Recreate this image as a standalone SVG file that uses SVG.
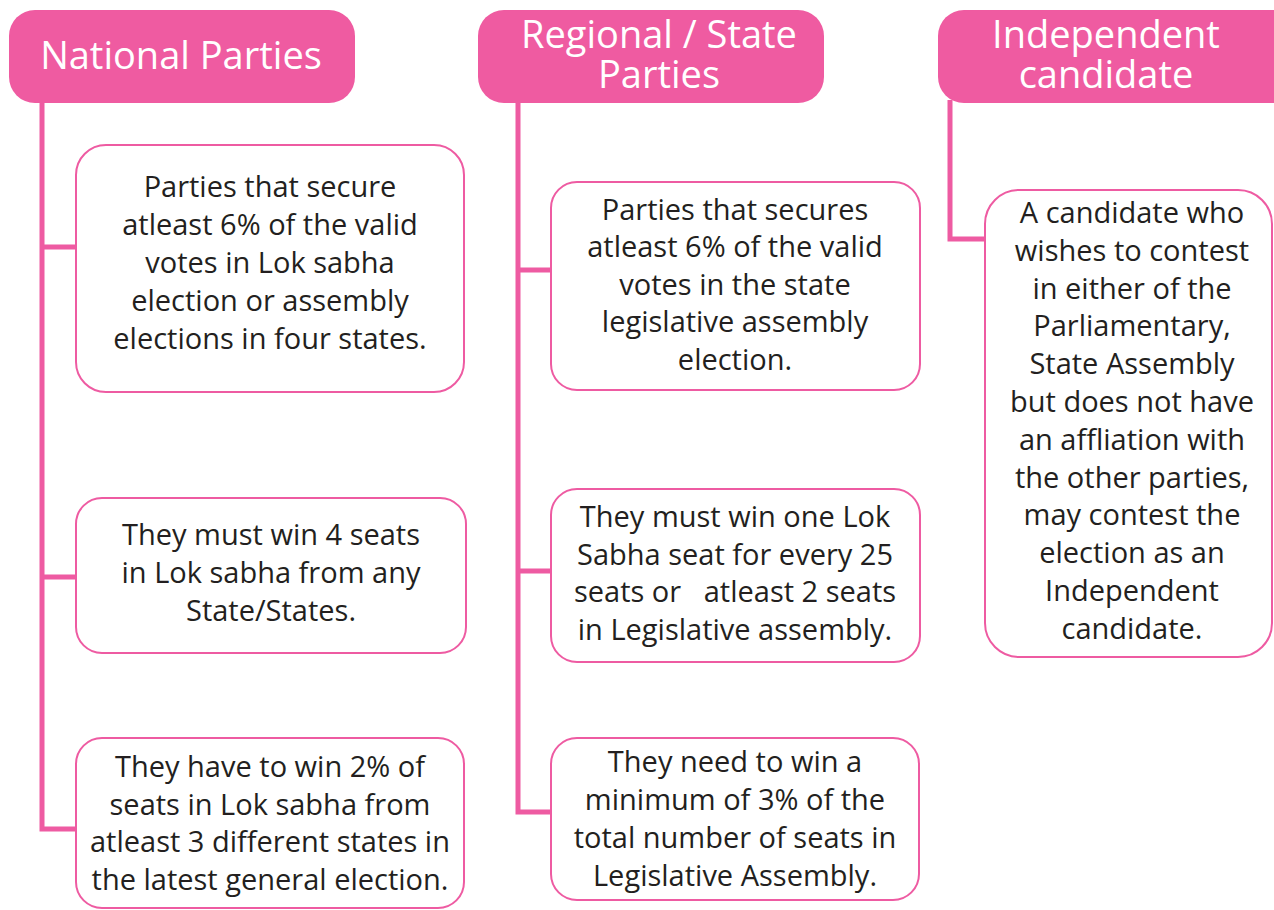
<svg xmlns="http://www.w3.org/2000/svg" width="1274" height="910" viewBox="0 0 1274 910">
<style>
.hdr{fill:#ef5ba1}
.hdrtxt{font-family:"Open Sans","Noto Sans",sans-serif;font-size:38px;fill:#ffffff;text-anchor:middle}
.box{fill:#ffffff;stroke:#ee5ba2;stroke-width:2}
.txt{font-family:"Open Sans","Noto Sans",sans-serif;font-size:29px;fill:#231f20;text-anchor:middle}
.conn{fill:none;stroke:#ee5ba2;stroke-width:5;stroke-linejoin:miter}
</style>
<rect width="1274" height="910" fill="#ffffff"/>
<g id="connectors">
<path class="conn" d="M42,100 V829 H77 M42,247 H77 M42,577 H77"/>
<path class="conn" d="M518,100 V812 H552 M518,270 H552 M518,571 H552"/>
<path class="conn" d="M950,100 V239 H986"/>
</g>
<g id="national">
<rect class="hdr" x="9" y="10" width="346" height="93" rx="26"/>
<text class="hdrtxt" x="181" y="69">National Parties</text>
</g>
<g id="regional">
<rect class="hdr" x="478" y="10" width="346" height="93" rx="26"/>
<text class="hdrtxt"><tspan x="659" y="48">Regional / State</tspan><tspan x="659" y="88">Parties</tspan></text>
</g>
<g id="independent">
<rect class="hdr" x="938" y="10" width="360" height="93" rx="26"/>
<text class="hdrtxt"><tspan x="1106" y="48">Independent</tspan><tspan x="1106" y="88">candidate</tspan></text>
</g>
<g id="n1">
<rect class="box" x="76" y="145" width="388" height="247" rx="30"/>
<text class="txt"><tspan x="270" y="197">Parties that secure</tspan><tspan x="270" y="235">atleast 6% of the valid</tspan><tspan x="270" y="273">votes in Lok sabha</tspan><tspan x="270" y="311">election or assembly</tspan><tspan x="270" y="349">elections in four states.</tspan></text>
</g>
<g id="n2">
<rect class="box" x="76" y="498" width="390" height="155" rx="26"/>
<text class="txt"><tspan x="271" y="545">They must win 4 seats</tspan><tspan x="271" y="583">in Lok sabha from any</tspan><tspan x="271" y="621">State/States.</tspan></text>
</g>
<g id="n3">
<rect class="box" x="76" y="738" width="388" height="170" rx="26"/>
<text class="txt"><tspan x="270" y="777">They have to win 2% of</tspan><tspan x="270" y="815">seats in Lok sabha from</tspan><tspan x="270" y="852">atleast 3 different states in</tspan><tspan x="270" y="890">the latest general election.</tspan></text>
</g>
<g id="r1">
<rect class="box" x="551" y="182" width="369" height="208" rx="26"/>
<text class="txt"><tspan x="735" y="220">Parties that secures</tspan><tspan x="735" y="257">atleast 6% of the valid</tspan><tspan x="735" y="295">votes in the state</tspan><tspan x="735" y="332">legislative assembly</tspan><tspan x="735" y="370">election.</tspan></text>
</g>
<g id="r2">
<rect class="box" x="551" y="489" width="369" height="173" rx="26"/>
<text class="txt"><tspan x="735" y="527">They must win one Lok</tspan><tspan x="735" y="565">Sabha seat for every 25</tspan><tspan x="735" y="602" xml:space="preserve">seats or   atleast 2 seats</tspan><tspan x="735" y="640">in Legislative assembly.</tspan></text>
</g>
<g id="r3">
<rect class="box" x="551" y="738" width="368" height="162" rx="26"/>
<text class="txt"><tspan x="735" y="772">They need to win a</tspan><tspan x="735" y="810">minimum of 3% of the</tspan><tspan x="735" y="848">total number of seats in</tspan><tspan x="735" y="886">Legislative Assembly.</tspan></text>
</g>
<g id="i1">
<rect class="box" x="985" y="190" width="287" height="467" rx="34"/>
<text class="txt"><tspan x="1132" y="223">A candidate who</tspan><tspan x="1132" y="261">wishes to contest</tspan><tspan x="1132" y="299">in either of the</tspan><tspan x="1132" y="336">Parliamentary,</tspan><tspan x="1132" y="374">State Assembly</tspan><tspan x="1132" y="412">but does not have</tspan><tspan x="1132" y="450">an affliation with</tspan><tspan x="1132" y="488">the other parties,</tspan><tspan x="1132" y="525">may contest the</tspan><tspan x="1132" y="563">election as an</tspan><tspan x="1132" y="601">Independent</tspan><tspan x="1132" y="639">candidate.</tspan></text>
</g>
</svg>
